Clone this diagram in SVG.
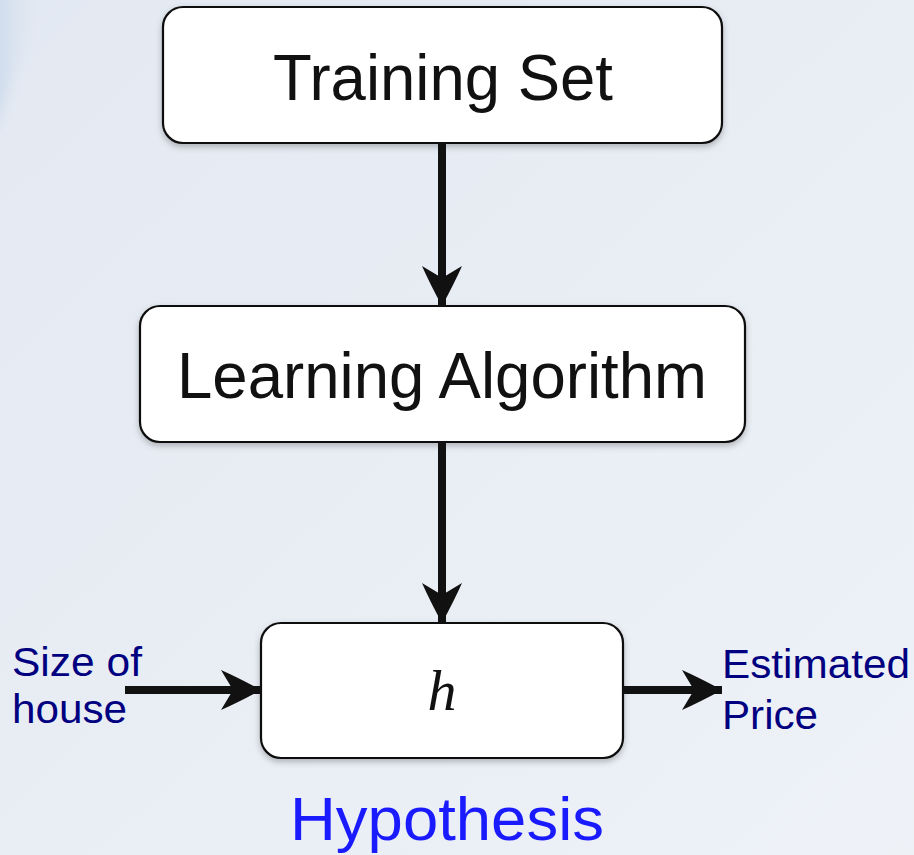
<svg xmlns="http://www.w3.org/2000/svg" width="914" height="855" viewBox="0 0 914 855">
<defs>
<linearGradient id="bg" x1="0" y1="0" x2="1" y2="1">
<stop offset="0" stop-color="#e3e9f2"/>
<stop offset="1" stop-color="#eef2f7"/>
</linearGradient>
<linearGradient id="streak" x1="0" y1="0" x2="1" y2="0">
<stop offset="0" stop-color="#bccfe6" stop-opacity="0.7"/>
<stop offset="1" stop-color="#dfe8f3" stop-opacity="0"/>
</linearGradient>
<filter id="sh" x="-10%" y="-10%" width="120%" height="130%">
<feDropShadow dx="0" dy="3" stdDeviation="3" flood-color="#000" flood-opacity="0.25"/>
</filter>
<filter id="blur"><feGaussianBlur stdDeviation="6"/></filter>
<marker id="ah" viewBox="0 0 40 40" refX="40" refY="20" markerWidth="40" markerHeight="40" markerUnits="userSpaceOnUse" orient="auto">
<path d="M40,20 Q18,8 0,0 L12,20 L0,40 Q18,32 40,20 Z" fill="#111"/>
</marker>
<style>
.box{fill:#fff;stroke:#111;stroke-width:2.2}
.big{font-family:"Liberation Sans",Arial,sans-serif;font-size:65px;fill:#111;text-anchor:middle}
.lbl{font-family:"Liberation Sans",Arial,sans-serif;font-size:40px;fill:#000080}
.conn{stroke:#111;stroke-width:8;fill:none}
</style>
</defs>
<rect width="914" height="855" fill="url(#bg)"/>
<path d="M-10,-10 L45,-10 Q22,60 -10,140 Z" fill="url(#streak)" filter="url(#blur)"/>
<g id="training-set">
<rect class="box" x="163" y="7" width="559" height="136" rx="20" filter="url(#sh)"/>
<text class="big" x="443" y="100" textLength="340" lengthAdjust="spacingAndGlyphs">Training Set</text>
</g>
<g id="learning-algorithm">
<rect class="box" x="140" y="306" width="605" height="136" rx="20" filter="url(#sh)"/>
<text class="big" x="442" y="398" textLength="530" lengthAdjust="spacingAndGlyphs">Learning Algorithm</text>
</g>
<g id="hypothesis">
<rect class="box" x="261" y="623" width="362" height="135" rx="20" filter="url(#sh)"/>
<text x="442" y="710" font-family="'Liberation Serif','Times New Roman',serif" font-style="italic" font-size="58" fill="#111" text-anchor="middle">h</text>
<text x="447" y="840" font-family="'Liberation Sans',Arial,sans-serif" font-size="62" fill="#1a1aff" text-anchor="middle" textLength="314" lengthAdjust="spacingAndGlyphs">Hypothesis</text>
</g>
<g id="input">
<text class="lbl" x="12" y="676" textLength="130" lengthAdjust="spacingAndGlyphs">Size of</text>
<text class="lbl" x="12" y="723" textLength="115" lengthAdjust="spacingAndGlyphs">house</text>
</g>
<g id="output">
<text class="lbl" x="722" y="678" textLength="188" lengthAdjust="spacingAndGlyphs">Estimated</text>
<text class="lbl" x="722" y="729" textLength="96" lengthAdjust="spacingAndGlyphs">Price</text>
</g>
<g id="connectors">
<line class="conn" x1="442" y1="143" x2="442" y2="306" marker-end="url(#ah)"/>
<line class="conn" x1="442" y1="442" x2="442" y2="623" marker-end="url(#ah)"/>
<line class="conn" x1="125" y1="690" x2="261" y2="690" marker-end="url(#ah)"/>
<line class="conn" x1="623" y1="690" x2="722" y2="690" marker-end="url(#ah)"/>
</g>
</svg>
